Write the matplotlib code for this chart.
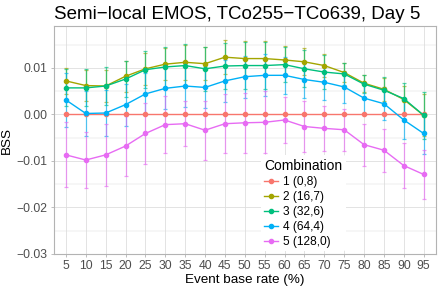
import matplotlib as mpl
mpl.use('Agg')
import matplotlib.pyplot as plt
import numpy as np

plt.rcParams['font.family'] = ['Liberation Sans', 'DejaVu Sans']

rates = [5, 10, 15, 20, 25, 30, 35, 40, 45, 50, 55, 60, 65, 70, 75, 80, 85, 90, 95]
labels = ["1 (0,8)", "2 (16,7)", "3 (32,6)", "4 (64,4)", "5 (128,0)"]
colors = ["#F8766D", "#A3A500", "#00BF7D", "#00B0F6", "#E76BF3"]

bss1 = [0.0] * 19
bss2 = [0.0072, 0.0062, 0.0061, 0.0082, 0.0098, 0.0108, 0.0112, 0.0109, 0.0123, 0.0120,
        0.0120, 0.0117, 0.0113, 0.0105, 0.0090, 0.0067, 0.0054, 0.0032, -0.0002]
bss3 = [0.0057, 0.0057, 0.0061, 0.0076, 0.0096, 0.0102, 0.0105, 0.0098, 0.0104, 0.0105,
        0.0105, 0.0107, 0.0098, 0.0091, 0.0087, 0.0065, 0.0052, 0.0034, -0.0002]
bss4 = [0.0031, 0.0002, 0.0003, 0.0021, 0.0044, 0.0056, 0.0061, 0.0058, 0.0072, 0.0081,
        0.0084, 0.0084, 0.0075, 0.0069, 0.0059, 0.0035, 0.0023, -0.0012, -0.0041]
bss5 = [-0.0087, -0.0098, -0.0087, -0.0068, -0.0041, -0.0022, -0.0020, -0.0034, -0.0020, -0.0018,
        -0.0017, -0.0012, -0.0026, -0.0030, -0.0033, -0.0065, -0.0077, -0.0110, -0.0129]

# half widths of the error bars
err1 = [0.0] * 19
err2 = [0.0028, 0.0033, 0.0035, 0.0033, 0.0035, 0.0035, 0.0037, 0.0035, 0.0036, 0.0038,
        0.0038, 0.0030, 0.0029, 0.0025, 0.0021, 0.0018, 0.0025, 0.0030, 0.0045]
err3 = [0.0040, 0.0040, 0.0040, 0.0039, 0.0040, 0.0043, 0.0046, 0.0047, 0.0050, 0.0050,
        0.0050, 0.0038, 0.0040, 0.0036, 0.0024, 0.0020, 0.0029, 0.0033, 0.0051]
err4 = [0.0058, 0.0049, 0.0050, 0.0045, 0.0045, 0.0045, 0.0045, 0.0045, 0.0045, 0.0045,
        0.0045, 0.0040, 0.0040, 0.0038, 0.0035, 0.0033, 0.0035, 0.0040, 0.0045]
err5 = [0.0070, 0.0061, 0.0067, 0.0065, 0.0066, 0.0062, 0.0048, 0.0063, 0.0064, 0.0065,
        0.0067, 0.0049, 0.0054, 0.0048, 0.0045, 0.0045, 0.0046, 0.0049, 0.0052]

series = [bss1, bss2, bss3, bss4, bss5]
errs = [err1, err2, err3, err4, err5]

fig = plt.figure(figsize=(4.41, 2.89), dpi=100)
ax = fig.add_axes([54 / 441, 1 - 254 / 289, (436 - 54) / 441, (254 - 26) / 289])

for y, e, c in zip(series, errs, colors):
    if max(e) > 0:
        ax.errorbar(rates, y, yerr=e, fmt='none', ecolor=c, elinewidth=0.9,
                    capsize=1.2, capthick=0.9, alpha=0.65, zorder=2)
for y, c, lab in zip(series, colors, labels):
    ax.plot(rates, y, color=c, lw=1.0, marker='o', ms=3.0, mec=c, label=lab, zorder=3)

ax.set_xlim(2.0, 98.1)
ax.set_ylim(-0.03, 0.019)
ax.set_xticks(rates)
ax.set_xticklabels([str(r) for r in rates])
ax.set_yticks([-0.03, -0.02, -0.01, 0.0, 0.01])
ax.set_yticklabels(["\u22120.03", "\u22120.02", "\u22120.01", "0.00", "0.01"])
ax.set_yticks([-0.025, -0.015, -0.005, 0.005, 0.015], minor=True)

ax.grid(True, which='major', color='#DEDEDE', lw=0.6)
ax.grid(True, which='minor', axis='y', color='#DEDEDE', lw=0.35)
ax.set_axisbelow(True)
for s in ax.spines.values():
    s.set_color('#B3B3B3')
    s.set_linewidth(0.8)
ax.tick_params(which='major', colors='#B3B3B3', labelcolor='#4D4D4D', labelsize=8.7, length=2.5, width=0.6, pad=2)
ax.tick_params(which='minor', length=0)

ax.set_xlabel("Event base rate (%)", fontsize=9.7, color='black', labelpad=1.5)
ax.set_ylabel("BSS", fontsize=9.7, color='black', labelpad=3)
ax.set_title("Semi\u2212local EMOS, TCo255\u2212TCo639, Day 5", fontsize=13.5, loc='left', pad=5)

leg = ax.legend(title="Combination", loc='lower left', bbox_to_anchor=(0.525, -0.015),
                frameon=True, fontsize=8.6, title_fontsize=10, handlelength=1.2,
                handletextpad=0.35, labelspacing=0.25, borderpad=0.3)
leg.get_frame().set_edgecolor('none')
leg.get_frame().set_facecolor('white')
leg.get_frame().set_alpha(1.0)
leg._legend_box.align = "left"

fig.savefig("out.png", dpi=100)
